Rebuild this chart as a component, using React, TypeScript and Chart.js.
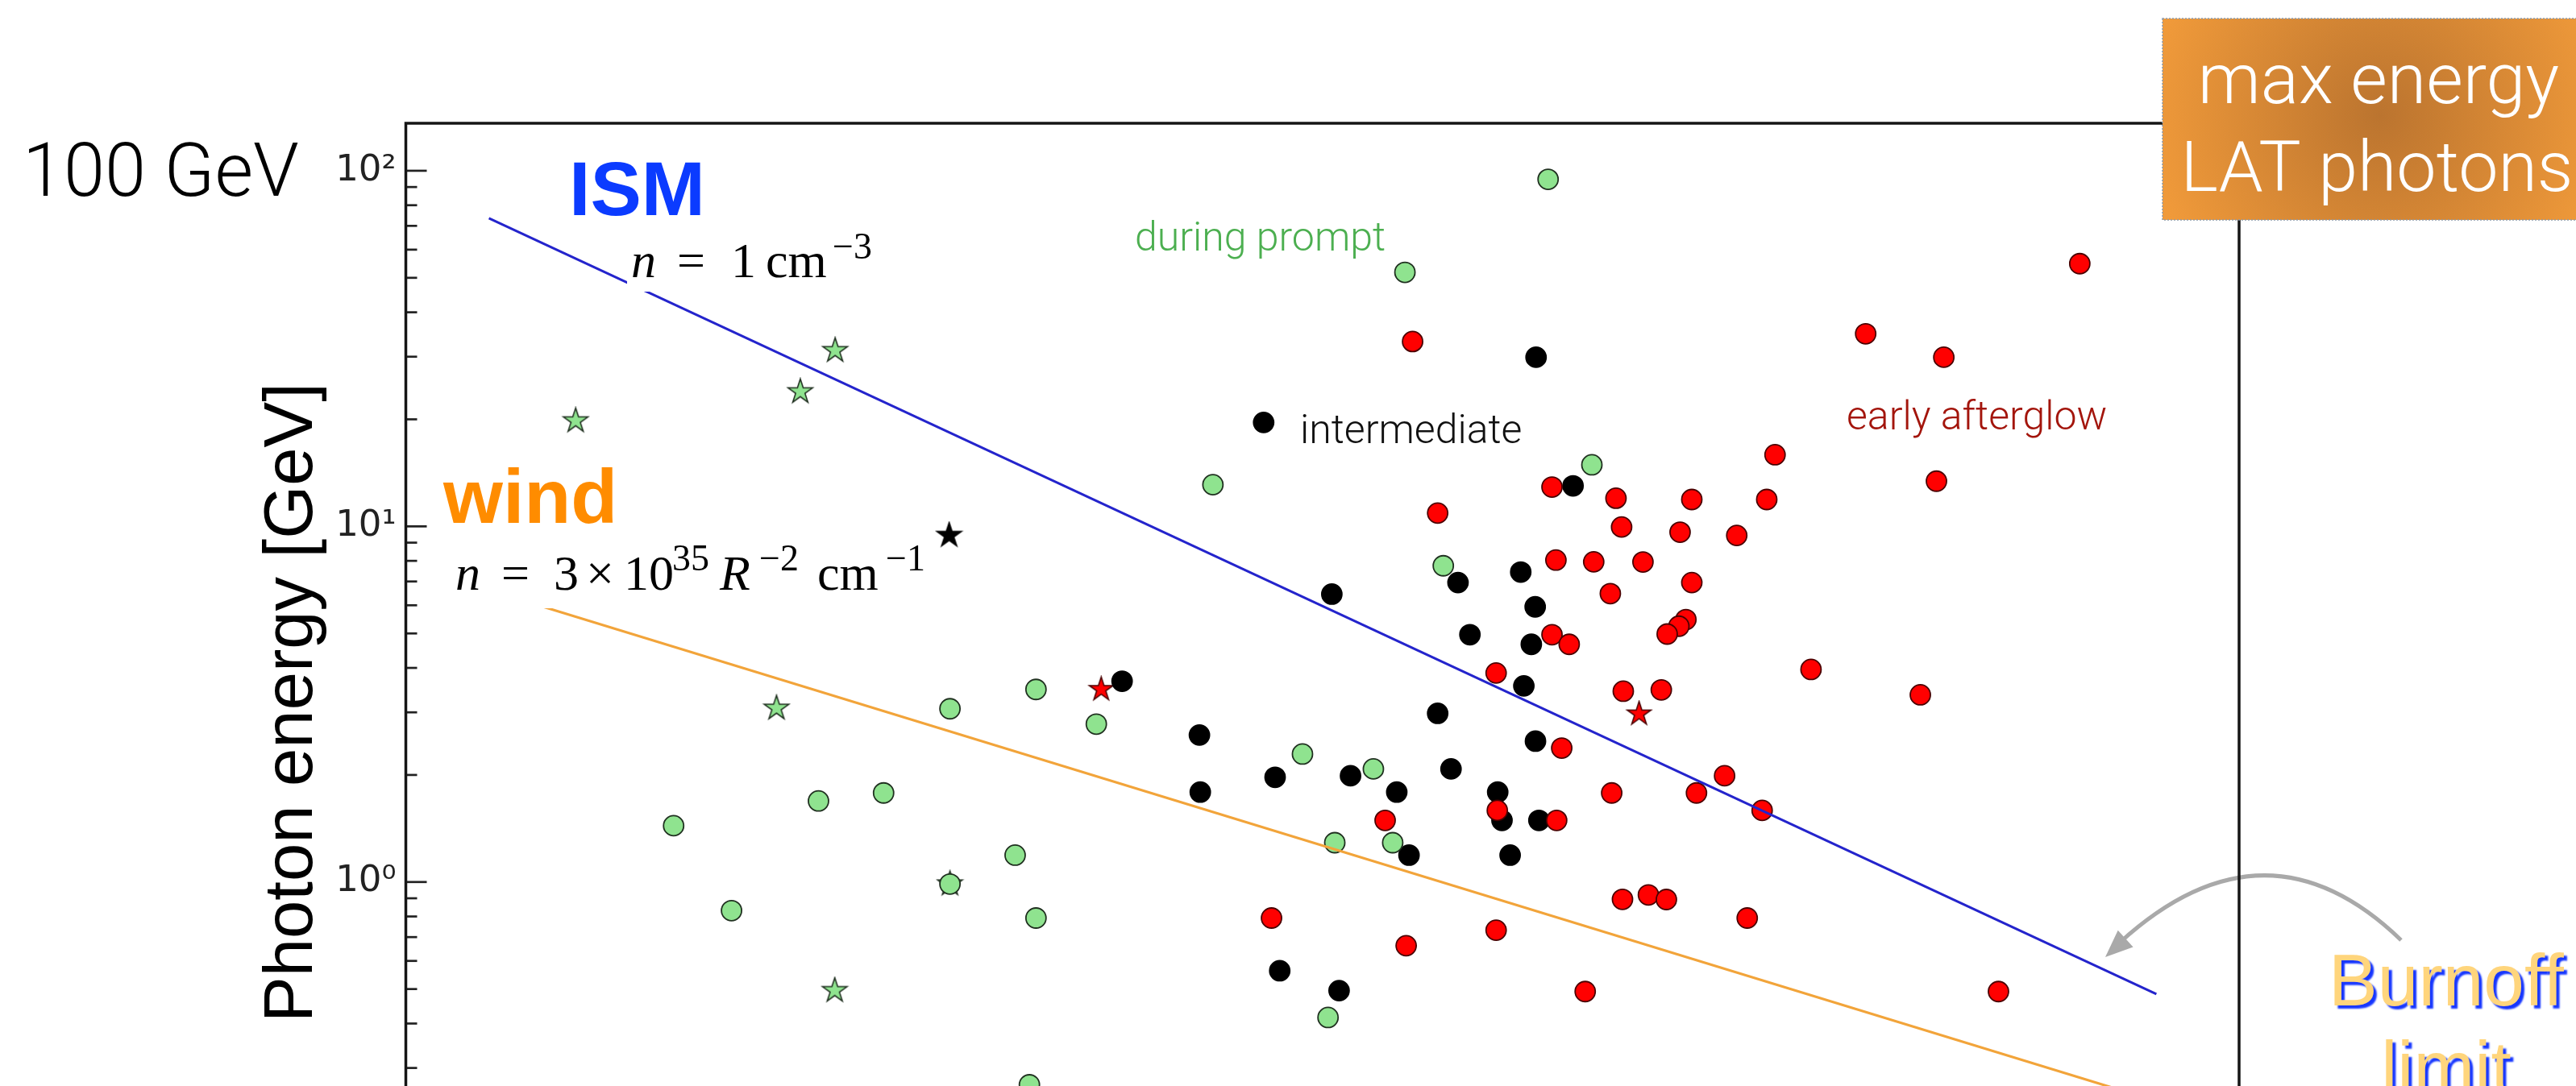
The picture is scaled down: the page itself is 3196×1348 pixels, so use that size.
import React, { useEffect, useRef } from "react";
import { Chart, registerables } from "chart.js";

Chart.register(...registerables);

// ---- axis ranges (x: time since trigger [s], y: photon energy [GeV]) ----
const X_MIN = 0.1;
const X_MAX = 2.4e5;
const Y_MIN = 0.08;
const Y_MAX = 136;

const yTickValues = [0.1, 1, 10, 100];
const yTickLabels = ["10⁻¹", "10⁰", "10¹", "10²"];
const xTickValues = [1, 10, 100, 1000, 10000, 100000];
const xTickLabels = ["10⁰", "10¹", "10²", "10³", "10⁴", "10⁵"];

// ---- burnoff limit lines ----
const burnoffT = [0.1946, 123700];
const ismE = [73.5, 0.484];
const windE = [6.62, 0.242];

// ---- during prompt (green circles) ----
const promptT = [945, 300, 64.4, 1342, 408, 7.83, 15.6, 25.3, 0.855, 2.73, 4.6, 132, 233, 171, 272, 13.2, 1.36, 15.6, 162, 14.8, 7.83];
const promptE = [94.6, 51.8, 13.1, 14.9, 7.75, 3.07, 3.48, 2.78, 1.44, 1.69, 1.78, 2.29, 2.08, 1.29, 1.29, 1.19, 0.831, 0.792, 0.416, 0.269, 0.987];

// ---- during prompt (green stars) ----
const promptStarT = [0.39, 2.36, 3.12, 1.95, 3.11, 7.83];
const promptStarE = [19.8, 23.9, 31.2, 3.08, 0.495, 0.987];

// ---- intermediate (black circles / star) ----
const interT = [858, 96.7, 1154, 167, 459, 759, 852, 505, 826, 778, 31.1, 57.8, 390, 854, 106, 194, 434, 281, 631, 58.2, 653, 878, 310, 697, 110, 177];
const interE = [29.9, 19.6, 13.0, 6.45, 6.95, 7.44, 5.94, 4.96, 4.66, 3.56, 3.67, 2.59, 2.98, 2.49, 1.97, 1.99, 2.08, 1.79, 1.79, 1.79, 1.49, 1.49, 1.19, 1.19, 0.563, 0.495];
const interStarT = [7.78];
const interStarE = [9.43];

// ---- early afterglow (red circles / stars) ----
const afterT = [66950, 319, 12040, 22520, 5824, 21230, 975, 1628, 2989, 5449, 390, 1703, 2721, 4285, 1006, 1362, 2021, 1556, 2989, 975, 1119, 2851, 2695, 2454, 623, 1726, 2341, 7770, 18660, 1054, 3887, 1573, 3103, 5252, 629, 1012, 256, 1715, 2111, 2438, 4660, 103, 623, 303, 1272, 34900];
const afterE = [54.8, 33.1, 34.8, 29.9, 15.9, 13.4, 12.9, 12.0, 11.9, 11.9, 10.9, 9.96, 9.63, 9.43, 8.04, 7.95, 7.94, 6.47, 6.95, 4.96, 4.66, 5.47, 5.24, 4.98, 3.87, 3.44, 3.47, 3.96, 3.36, 2.38, 1.99, 1.78, 1.78, 1.59, 1.59, 1.49, 1.49, 0.894, 0.92, 0.893, 0.792, 0.792, 0.732, 0.662, 0.492, 0.492];
const afterStarT = [26.3, 1959];
const afterStarE = [3.48, 2.97];

const pts = (xs: number[], ys: number[]) => xs.map((x, i) => ({ x, y: ys[i] }));

function makeStar(fill: string, stroke: string, R: number) {
  const s = Math.ceil(2 * R + 4);
  const c = document.createElement("canvas");
  c.width = s;
  c.height = s;
  const g = c.getContext("2d")!;
  g.translate(s / 2, s / 2);
  g.beginPath();
  for (let i = 0; i < 10; i++) {
    const r = i % 2 === 0 ? R : R * 0.382;
    const a = -Math.PI / 2 + (i * Math.PI) / 5;
    g.lineTo(r * Math.cos(a), r * Math.sin(a));
  }
  g.closePath();
  g.fillStyle = fill;
  g.fill();
  g.lineWidth = 1.6;
  g.strokeStyle = stroke;
  g.stroke();
  return c;
}

type Piece = { t: string; x: number; y: number; f: string };

function drawPieces(ctx: CanvasRenderingContext2D, pieces: Piece[]) {
  ctx.textAlign = "left";
  ctx.textBaseline = "alphabetic";
  ctx.fillStyle = "#000";
  for (const p of pieces) {
    ctx.font = p.f;
    ctx.fillText(p.t, p.x, p.y);
  }
}

const MAIN = "62px 'Liberation Serif'";
const MAINI = "italic 62px 'Liberation Serif'";
const SUP = "46px 'Liberation Serif'";

const overlay = {
  id: "overlay",
  afterDatasetsDraw(chart: any) {
    const { ctx, chartArea: a, scales } = chart;
    const ys = scales.y;
    ctx.save();

    // white boxes behind the formulas (hide the line underneath)
    ctx.fillStyle = "#fff";
    ctx.fillRect(778, 288, 326, 74);
    ctx.fillRect(556, 684, 612, 71);

    // formulas
    drawPieces(ctx, [
      { t: "n", x: 783, y: 344, f: MAINI },
      { t: "=", x: 840, y: 344, f: MAIN },
      { t: "1", x: 907, y: 344, f: MAIN },
      { t: "cm", x: 950, y: 344, f: MAIN },
      { t: "−3", x: 1033, y: 321, f: SUP },
    ]);
    drawPieces(ctx, [
      { t: "n", x: 565, y: 732, f: MAINI },
      { t: "=", x: 622, y: 732, f: MAIN },
      { t: "3", x: 687, y: 732, f: MAIN },
      { t: "×", x: 727, y: 732, f: MAIN },
      { t: "10", x: 774, y: 732, f: MAIN },
      { t: "35", x: 834, y: 708, f: SUP },
      { t: "R", x: 893, y: 732, f: MAINI },
      { t: "−2", x: 942, y: 708, f: SUP },
      { t: "cm", x: 1014, y: 732, f: MAIN },
      { t: "−1", x: 1099, y: 708, f: SUP },
    ]);

    // big labels
    ctx.textAlign = "left";
    ctx.font = "bold 95px 'Liberation Sans'";
    ctx.fillStyle = "#0B3BFF";
    ctx.fillText("ISM", 706, 267);
    ctx.fillStyle = "#FF8C00";
    ctx.fillText("wind", 550, 649);

    // group labels
    ctx.font = "300 50px Roboto";
    ctx.fillStyle = "#4CAF50";
    ctx.fillText("during prompt", 1408, 311);
    ctx.fillStyle = "#111";
    ctx.fillText("intermediate", 1613, 550);
    ctx.fillStyle = "#A3150C";
    ctx.fillText("early afterglow", 2291, 533);

    // inward y ticks
    ctx.strokeStyle = "#222";
    ctx.lineWidth = 2.7;
    for (let k = -2; k <= 2; k++) {
      for (let m = 1; m <= 9; m++) {
        const v = m * Math.pow(10, k);
        if (v < Y_MIN || v > Y_MAX) continue;
        const y = ys.getPixelForValue(v);
        const len = m === 1 ? 26 : 14;
        ctx.beginPath();
        ctx.moveTo(a.left, y);
        ctx.lineTo(a.left + len, y);
        ctx.stroke();
      }
    }

    // arrow (burnoff pointer)
    const A = [2979, 1167];
    const C = [2811, 1005];
    const B = [2630, 1170];
    ctx.strokeStyle = "#A9A9A9";
    ctx.fillStyle = "#A9A9A9";
    ctx.lineWidth = 5;
    ctx.beginPath();
    ctx.moveTo(A[0], A[1]);
    ctx.quadraticCurveTo(C[0], C[1], B[0], B[1]);
    ctx.stroke();
    const dx = B[0] - C[0];
    const dy = B[1] - C[1];
    const dl = Math.hypot(dx, dy);
    const ux = dx / dl;
    const uy = dy / dl;
    const tip = [2612, 1188];
    const bx = tip[0] - ux * 34;
    const by = tip[1] - uy * 34;
    ctx.beginPath();
    ctx.moveTo(tip[0], tip[1]);
    ctx.lineTo(bx + uy * 14, by - ux * 14);
    ctx.lineTo(bx - uy * 14, by + ux * 14);
    ctx.closePath();
    ctx.fill();

    // frame
    ctx.strokeStyle = "#151515";
    ctx.lineWidth = 3.5;
    ctx.strokeRect(a.left, a.top, a.right - a.left, a.bottom - a.top);

    // "Burnoff limit"
    ctx.save();
    ctx.font = "91px 'Liberation Sans'";
    ctx.textAlign = "center";
    ctx.fillStyle = "#FFD57C";
    ctx.shadowColor = "#1636FF";
    ctx.shadowOffsetX = 4;
    ctx.shadowOffsetY = 4;
    ctx.shadowBlur = 2;
    ctx.fillText("Burnoff", 3035, 1248);
    ctx.fillText("limit", 3035, 1356);
    ctx.restore();

    // orange box
    const gx = 2683, gy = 23, gw = 3196 - 2683 + 20, gh = 250;
    const grad = ctx.createRadialGradient(2953, 143, 0, 2953, 143, 290);
    grad.addColorStop(0, "#BB742F");
    grad.addColorStop(1, "#F09A3A");
    ctx.fillStyle = grad;
    ctx.fillRect(gx, gy, gw, gh);
    ctx.setLineDash([2, 2]);
    ctx.strokeStyle = "#8C9AAA";
    ctx.lineWidth = 1.5;
    ctx.strokeRect(gx, gy, gw, gh);
    ctx.setLineDash([]);
    ctx.fillStyle = "#fff";
    ctx.font = "300 88px Roboto";
    ctx.textAlign = "center";
    ctx.fillText("max energy", 2951, 128);
    ctx.fillText("LAT photons", 2949, 237);

    // "100 GeV"
    ctx.fillStyle = "#000";
    ctx.textAlign = "left";
    ctx.font = "300 92px Roboto";
    ctx.fillText("100 GeV", 28, 243);

    // y title
    ctx.save();
    ctx.translate(387, (a.top + a.bottom) / 2 + 6);
    ctx.rotate(-Math.PI / 2);
    ctx.textAlign = "center";
    ctx.font = "85px 'Liberation Sans'";
    ctx.fillStyle = "#000";
    ctx.fillText("Photon energy [GeV]", 0, 0);
    ctx.restore();

    ctx.restore();
  },
};

export default function App() {
  const ref = useRef<HTMLCanvasElement>(null);

  useEffect(() => {
    const canvas = ref.current!;
    const greenStar = makeStar("#8FE38F", "#1f2f1f", 16);
    const blackStar = makeStar("#000000", "#000000", 16);
    const redStar = makeStar("#FF0000", "#4a0000", 15.5);

    const circle = (fill: string, edge: string) => ({
      pointStyle: "circle",
      pointRadius: 12.5,
      pointHoverRadius: 12.5,
      backgroundColor: fill,
      borderColor: edge,
      borderWidth: 1.8,
      showLine: false,
    });

    const chart = new Chart(canvas, {
      type: "scatter",
      data: {
        datasets: [
          {
            label: "ISM",
            data: pts(burnoffT, ismE),
            showLine: true,
            borderColor: "#2424CC",
            borderWidth: 3,
            pointRadius: 0,
            fill: false,
          },
          {
            label: "wind",
            data: pts(burnoffT, windE),
            showLine: true,
            borderColor: "#F2A43A",
            borderWidth: 3,
            pointRadius: 0,
            fill: false,
          },
          { label: "during prompt", data: pts(promptT, promptE), ...circle("#8FE38F", "#203020") },
          { label: "early afterglow", data: pts(afterT, afterE), ...circle("#FF0000", "#4a0000") },
          { label: "intermediate", data: pts(interT, interE), ...circle("#000000", "#000000") },
          { label: "prompt stars", data: pts(promptStarT, promptStarE), pointStyle: greenStar as any, pointRadius: 16, showLine: false },
          { label: "intermediate star", data: pts(interStarT, interStarE), pointStyle: blackStar as any, pointRadius: 16, showLine: false },
          { label: "afterglow stars", data: pts(afterStarT, afterStarE), pointStyle: redStar as any, pointRadius: 15, showLine: false },
        ] as any,
      },
      options: {
        responsive: false,
        animation: false,
        events: [],
        layout: { padding: { left: 0, right: 418, top: 153, bottom: 21 } },
        plugins: { legend: { display: false }, tooltip: { enabled: false } },
        scales: {
          x: {
            type: "logarithmic",
            min: X_MIN,
            max: X_MAX,
            grid: { display: false, drawTicks: false },
            border: { display: false },
            ticks: {
              autoSkip: false,
              maxRotation: 0,
              font: { family: "'DejaVu Sans'", size: 44 },
              color: "#333",
              callback: (v: any) => {
                const i = xTickValues.indexOf(Number(v));
                return i >= 0 ? xTickLabels[i] : "";
              },
            },
            afterBuildTicks: (s: any) => {
              s.ticks = xTickValues.map((v) => ({ value: v }));
            },
            afterFit: (s: any) => {
              s.height = 100;
            },
          },
          y: {
            type: "logarithmic",
            min: Y_MIN,
            max: Y_MAX,
            grid: { display: false, drawTicks: false },
            border: { display: false },
            ticks: {
              autoSkip: false,
              padding: 12,
              font: { family: "'DejaVu Sans'", size: 45 },
              color: "#222",
              callback: (v: any) => {
                const i = yTickValues.indexOf(Number(v));
                return i >= 0 ? yTickLabels[i] : "";
              },
            },
            afterBuildTicks: (s: any) => {
              s.ticks = yTickValues.map((v) => ({ value: v }));
            },
            afterFit: (s: any) => {
              s.width = 503.5;
            },
          },
        },
      } as any,
      plugins: [overlay],
    });
    return () => chart.destroy();
  }, []);

  return (
    <div
      style={{
        position: "fixed",
        left: 0,
        top: 0,
        width: 3196,
        height: 1348,
        overflow: "hidden",
        background: "#fff",
      }}
    >
      <canvas ref={ref} width={3196} height={1700} style={{ display: "block", width: 3196, height: 1700 }} />
    </div>
  );
}
